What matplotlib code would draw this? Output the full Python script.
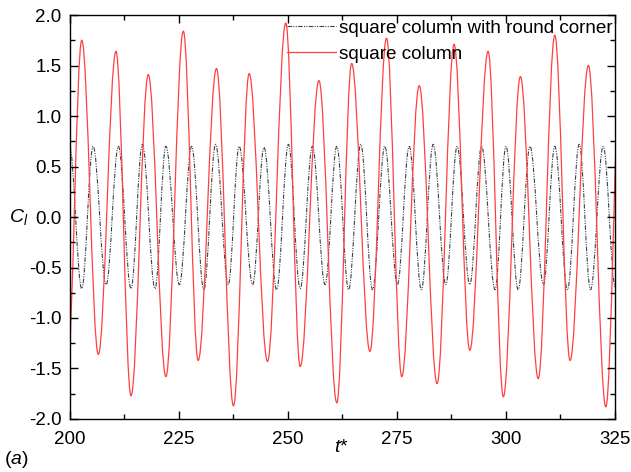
import matplotlib
matplotlib.use("Agg")
import matplotlib.pyplot as plt
from matplotlib.path import Path
from matplotlib.patches import PathPatch
from matplotlib.ticker import MultipleLocator

# ---- data (extrema) ----
# square column with round corner (black dash-dot)
round_peak_t = [199.9, 205.3, 211.1, 216.6, 222.0, 227.9, 233.4, 238.8, 244.5, 250.1, 255.6,
                261.2, 266.7, 272.2, 277.8, 283.3, 288.8, 294.4, 300.0, 305.5, 311.2,
                316.8, 322.3]
round_peak_v = [0.70, 0.70, 0.70, 0.72, 0.70, 0.70, 0.72, 0.70, 0.69, 0.72, 0.70,
                0.70, 0.72, 0.70, 0.70, 0.72, 0.70, 0.70, 0.70, 0.70, 0.70,
                0.72, 0.70]
round_trough_t = [202.7, 208.3, 214.0, 219.5, 225.1, 230.7, 236.3, 241.9, 247.4, 252.8,
                  258.5, 263.9, 269.4, 275.1, 280.6, 286.2, 291.7, 297.5, 302.8, 308.6,
                  314.1, 319.4, 325.1]
round_trough_v = [-0.71, -0.67, -0.71, -0.71, -0.67, -0.72, -0.67, -0.67, -0.72, -0.71,
                  -0.67, -0.72, -0.72, -0.67, -0.72, -0.67, -0.67, -0.72, -0.72, -0.67,
                  -0.72, -0.72, -0.70]

# square column (red solid)
sq_trough_t = [199.4, 206.5, 214.0, 222.0, 229.4, 237.5, 245.3, 252.8, 261.2, 268.8,
               276.1, 284.2, 291.7, 299.4, 307.4, 314.7, 322.9]
sq_trough_v = [-1.50, -1.36, -1.77, -1.58, -1.42, -1.87, -1.43, -1.48, -1.84, -1.33,
               -1.58, -1.65, -1.32, -1.78, -1.60, -1.42, -1.88]
sq_peak_t = [202.7, 210.55, 217.96, 226.0, 233.6, 241.1, 249.5, 257.1, 264.6, 272.6,
             280.1, 288.1, 295.9, 303.3, 311.2, 318.9, 326.4]
sq_peak_v = [1.75, 1.64, 1.41, 1.84, 1.47, 1.42, 1.92, 1.35, 1.52, 1.77,
             1.30, 1.71, 1.64, 1.39, 1.80, 1.50, 1.60]

labels = ["square column with round corner", "square column"]
xticks = [200, 225, 250, 275, 300, 325]
yticks = [-2.0, -1.5, -1.0, -0.5, 0.0, 0.5, 1.0, 1.5, 2.0]

plt.rcParams['font.family'] = ['Liberation Sans', 'DejaVu Sans']
plt.rcParams['mathtext.fontset'] = 'custom'
plt.rcParams['mathtext.it'] = 'Liberation Sans:italic'
plt.rcParams['mathtext.rm'] = 'Liberation Sans'


def extrema_path(ta, va, tb, vb):
    # merge the two extrema lists in time order, join with smooth cubic curves
    pts = sorted(list(zip(ta, va)) + list(zip(tb, vb)))
    a = 0.364
    verts = [pts[0]]
    codes = [Path.MOVETO]
    for (t0, y0), (t1, y1) in zip(pts[:-1], pts[1:]):
        dt = t1 - t0
        verts += [(t0 + a * dt, y0), (t1 - a * dt, y1), (t1, y1)]
        codes += [Path.CURVE4] * 3
    return Path(verts, codes)


fig = plt.figure(figsize=(6.31, 4.72), dpi=100)
ax = fig.add_axes([0.1109, 0.1123, 0.8637, 0.8559])

black_col = '#404040'
red_col = '#ff4040'
black_ls = (0, (4, 1.2, 1, 1.2, 1, 1.2))
p_round = PathPatch(extrema_path(round_peak_t, round_peak_v, round_trough_t, round_trough_v),
                    fill=False, edgecolor=black_col, linewidth=0.8, linestyle=black_ls,
                    transform=ax.transData)
p_sq = PathPatch(extrema_path(sq_peak_t, sq_peak_v, sq_trough_t, sq_trough_v),
                 fill=False, edgecolor=red_col, linewidth=0.9, transform=ax.transData)
ax.add_patch(p_round)
ax.add_patch(p_sq)

h1, = ax.plot([], [], color=black_col, linewidth=0.8, linestyle=black_ls, label=labels[0])
h2, = ax.plot([], [], color=red_col, linewidth=0.9, label=labels[1])

ax.set_xlim(200, 325)
ax.set_ylim(-2.0, 2.0)
ax.set_xticks(xticks)
ax.set_yticks(yticks)
ax.set_yticklabels([f"{v:.1f}" for v in yticks])
ax.xaxis.set_minor_locator(MultipleLocator(12.5))
ax.yaxis.set_minor_locator(MultipleLocator(0.25))
ax.tick_params(which='both', direction='in', top=True, right=True, labelsize=13.5,
               width=1.0, color='black')
ax.tick_params(which='major', length=6)
ax.tick_params(which='minor', length=3.5)
ax.tick_params(axis='y', which='major', pad=6)
ax.tick_params(axis='x', which='major', pad=9)
for s in ax.spines.values():
    s.set_linewidth(1.0)

leg = ax.legend(handles=[h1, h2], loc='upper right', frameon=False, fontsize=13.6,
                borderaxespad=0.15, borderpad=0.0, handlelength=2.6, handletextpad=0.15,
                labelspacing=0.45, bbox_to_anchor=(1.0, 0.995))

fig.text(9 / 631, 1 - 217 / 472, r"$C_l$", fontsize=14, ha='left', va='center')
fig.text(341 / 631, 1 - 448 / 472, r"$t$*", fontsize=14, ha='center', va='center')
fig.text(4 / 631, 1 - 459 / 472, r"($a$)", fontsize=14, ha='left', va='center')

fig.savefig("out.png", dpi=100)
